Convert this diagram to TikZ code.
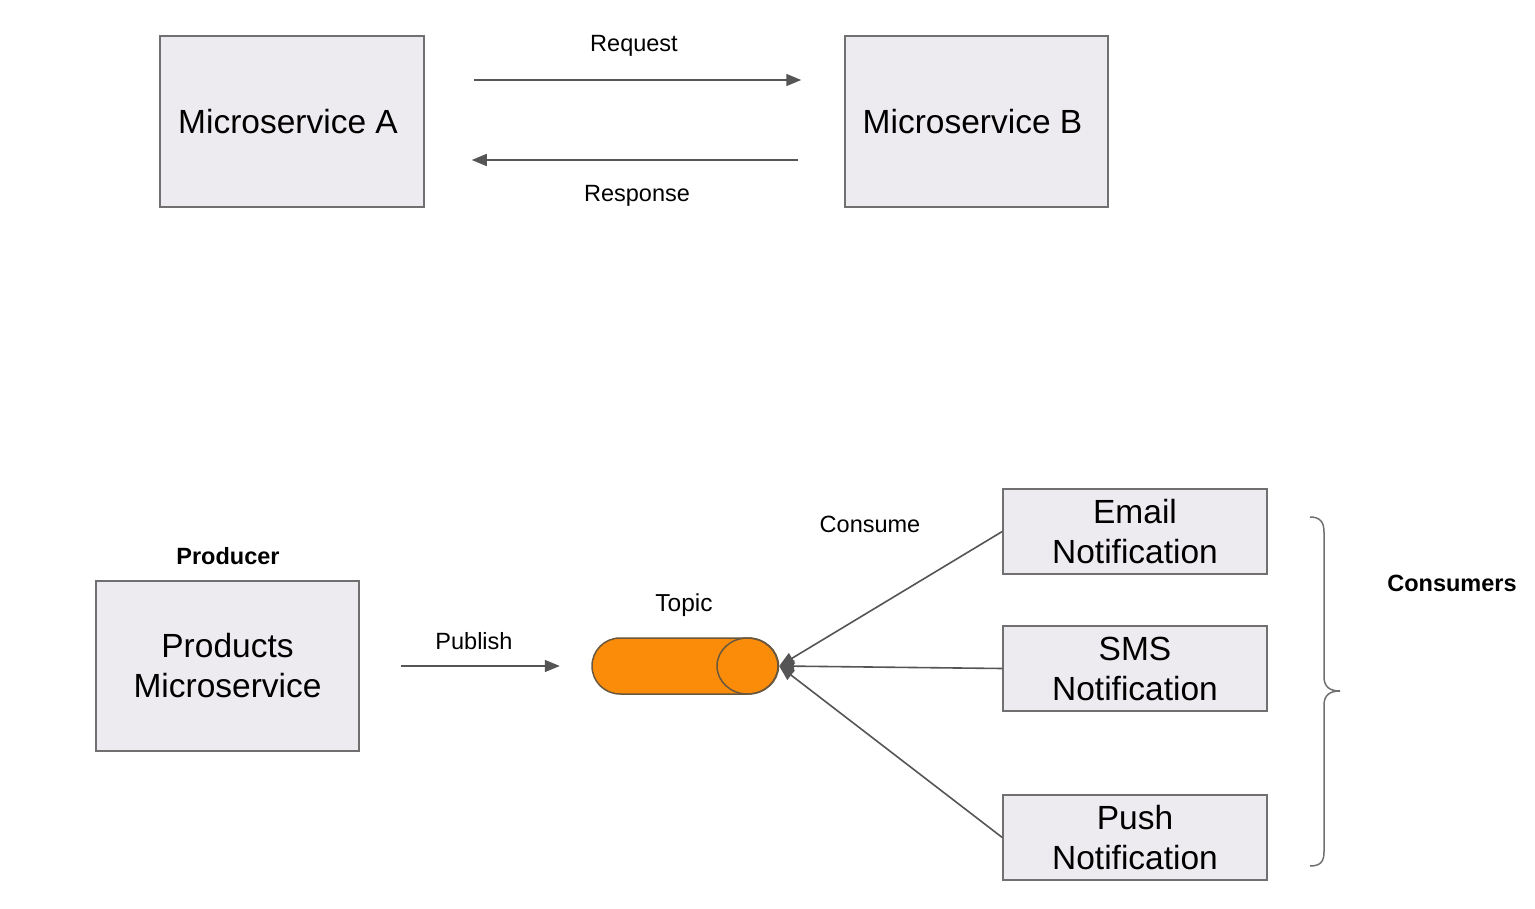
\documentclass[tikz,border=0pt]{standalone}
\usepackage{fontspec}
\setmainfont{Liberation Sans}
\usetikzlibrary{arrows.meta}
\definecolor{boxfill}{RGB}{237,235,239}
\definecolor{boxline}{RGB}{112,112,112}
\definecolor{arrowc}{RGB}{85,85,85}
\definecolor{topicfill}{RGB}{250,140,10}
\definecolor{topicline}{RGB}{105,88,62}
\begin{document}
\begin{tikzpicture}[x=1pt,y=-1pt,
  svc/.style={draw=boxline, fill=boxfill, line width=1.5pt, inner sep=0pt, align=center,
              font=\fontsize{33.5}{40}\selectfont},
  lbl/.style={font=\fontsize{23.5}{28}\selectfont, inner sep=0pt},
  blbl/.style={font=\fontsize{23.5}{28}\selectfont\bfseries, inner sep=0pt},
  conn/.style={draw=arrowc, line width=1.6pt, -{Triangle[length=15pt,width=12pt]}}]
\useasboundingbox[fill=white] (0,0) rectangle (1535,909);

% top row
\node[svc, minimum width=264pt, minimum height=171pt] (A) at (292,121.5) {Microservice A\hspace*{8pt}};
\node[svc, minimum width=263pt, minimum height=171pt] (B) at (976.5,121.5) {Microservice B\hspace*{8pt}};
\draw[conn, shorten <=49pt, shorten >=43pt] ([yshift=41.5pt]A.east) -- ([yshift=41.5pt]B.west);
\draw[conn, shorten <=46pt, shorten >=47pt] ([yshift=-38.5pt]B.west) -- ([yshift=-38.5pt]A.east);
\node[lbl] (req) at (634,45.5) {Request};
\node[lbl] (resp) at (637,195.5) {Response};

% producer
\node[svc, minimum width=263pt, minimum height=170pt] (prod) at (227.5,666) {Products\\Microservice};
\node[blbl] (producer) at (228,556) {Producer};

% topic
\draw[topicline, line width=1.5pt, fill=topicfill]
  (748,638) -- (620,638) arc[start angle=-90, end angle=-270, x radius=28, y radius=28]
  -- (748,694) arc[start angle=90, end angle=-90, x radius=30.5, y radius=28] -- cycle;
\draw[topicline, line width=1.5pt] (747.5,666) ellipse [x radius=30.5, y radius=28];
\node[minimum width=187pt, minimum height=56pt, inner sep=0pt] (topic) at (685.5,666) {};
\node[lbl, font=\fontsize{24.5}{29}\selectfont] (topiclbl) at (684,605) {Topic};

\draw[conn, shorten <=41pt, shorten >=32pt] (prod.east) -- (topic.west);
\node[lbl] (publish) at (474,641) {Publish};

% consumers
\node[svc, minimum width=264pt, minimum height=85pt] (email) at (1135,531.5) {Email\\Notification};
\node[svc, minimum width=264pt, minimum height=85pt] (sms) at (1135,668.5) {SMS\\Notification};
\node[svc, minimum width=264pt, minimum height=85pt] (push) at (1135,837.5) {Push\\Notification};

\draw[conn] (email.west) -- (topic.east);
\draw[conn] (sms.west) -- (topic.east);
\draw[conn] (push.west) -- (topic.east);
\node[lbl] (consume) at (870,524) {Consume};

% brace
\draw[boxline, line width=1.5pt]
  (1310,517) .. controls (1320,517) and (1324,522) .. (1324,532)
  -- (1324,677) .. controls (1324,687) and (1330,691) .. (1340,691)
  .. controls (1330,691) and (1324,695) .. (1324,705)
  -- (1324,852) .. controls (1324,862) and (1320,866) .. (1310,866);
\node[blbl] (consumers) at (1452,583) {Consumers};
\end{tikzpicture}
\end{document}
